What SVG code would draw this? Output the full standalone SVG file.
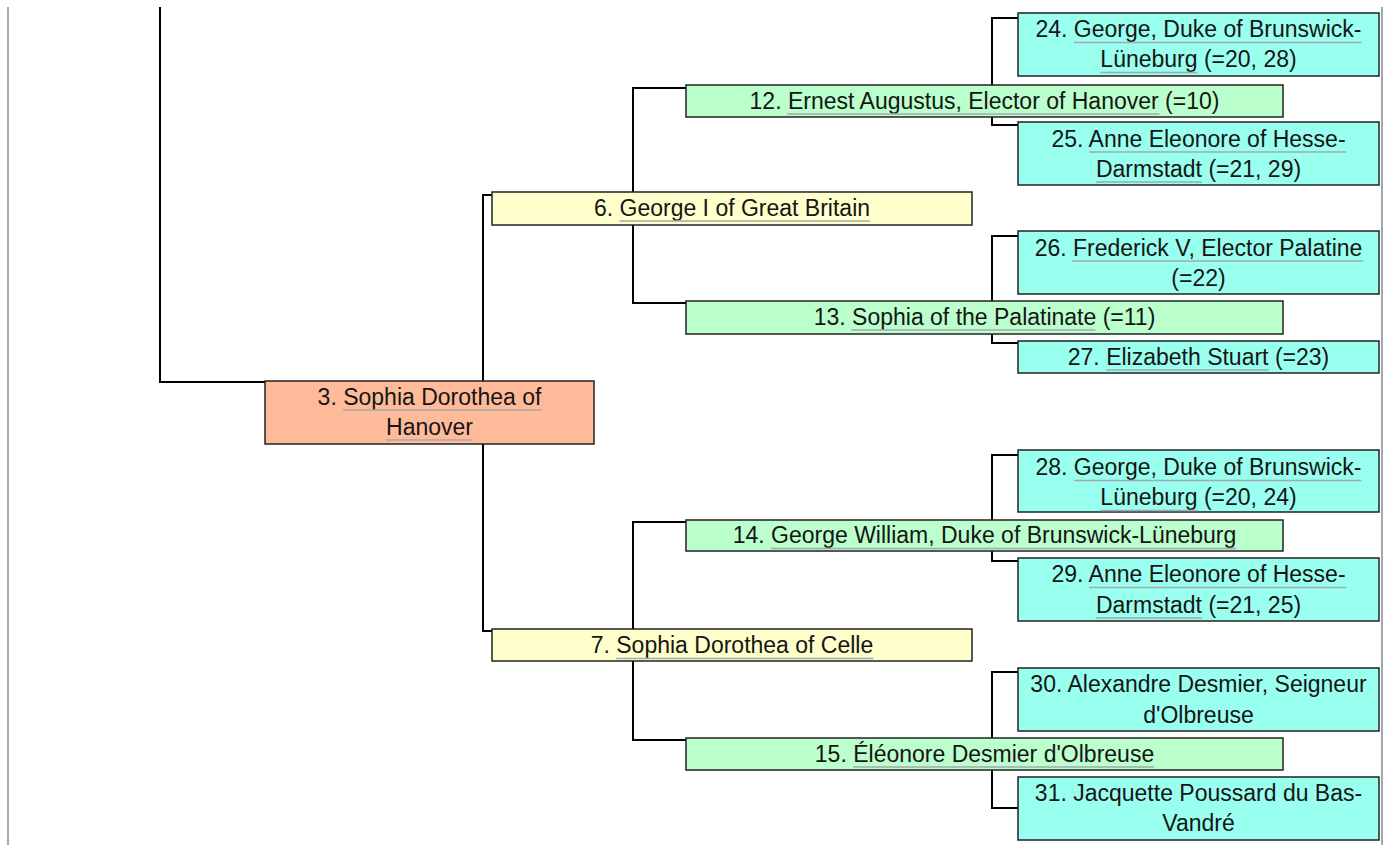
<svg xmlns="http://www.w3.org/2000/svg" width="1388" height="845" viewBox="0 0 1388 845">
<style>
.box{stroke:#222;stroke-width:1.5}
.g1{fill:#ffbb99}
.g2{fill:#ffffcc}
.g3{fill:#bbffcc}
.g4{fill:#99ffee}
text{font-family:"Liberation Sans",Arial,sans-serif;font-size:23px;fill:#151515;text-anchor:middle}
.ul{stroke:#a2a9b1;stroke-width:1.6}
.con{fill:none;stroke:#000;stroke-width:2}
.frame{stroke:#a2a9b1;stroke-width:2}
</style>
<rect width="1388" height="845" fill="#fff"/>
<g id="frame">
<line class="frame" x1="8" y1="7" x2="8" y2="845"/>
<line class="frame" x1="1382" y1="7" x2="1382" y2="845"/>
</g>
<g id="connectors">
<path class="con" d="M160,7 V382 H265"/>
<path class="con" d="M492,195 H483 V631 H492"/>
<path class="con" d="M686,88 H633 V303 H686"/>
<path class="con" d="M686,522 H633 V740 H686"/>
<path class="con" d="M1018,18 H992 V125 H1018"/>
<path class="con" d="M1018,236 H992 V343 H1018"/>
<path class="con" d="M1018,455 H992 V561 H1018"/>
<path class="con" d="M1018,672 H992 V808 H1018"/>
</g>
<g id="n3">
<rect class="box g1" x="265" y="381" width="329" height="63"/>
<text x="429.5" y="405">3. Sophia Dorothea of</text>
<text x="429.5" y="435">Hanover</text>
<line class="ul" x1="343" y1="410" x2="542" y2="410"/>
<line class="ul" x1="386" y1="440" x2="473" y2="440"/>
</g>
<g id="n6">
<rect class="box g2" x="492" y="192" width="480" height="33"/>
<text x="732" y="215.5">6. George I of Great Britain</text>
<line class="ul" x1="619.5" y1="221" x2="870" y2="221"/>
</g>
<g id="n7">
<rect class="box g2" x="492" y="629" width="480" height="32"/>
<text x="732" y="653">7. Sophia Dorothea of Celle</text>
<line class="ul" x1="616.3" y1="658.5" x2="873.5" y2="658.5"/>
</g>
<g id="n12">
<rect class="box g3" x="686" y="85" width="597" height="32"/>
<text x="984.5" y="108.5">12. Ernest Augustus, Elector of Hanover (=10)</text>
<line class="ul" x1="787.4" y1="114" x2="1159.4" y2="114"/>
</g>
<g id="n13">
<rect class="box g3" x="686" y="301" width="597" height="33"/>
<text x="984.5" y="324.5">13. Sophia of the Palatinate (=11)</text>
<line class="ul" x1="851.2" y1="330" x2="1095.4" y2="330"/>
</g>
<g id="n14">
<rect class="box g3" x="686" y="520" width="597" height="31"/>
<text x="984.5" y="543">14. George William, Duke of Brunswick-Lüneburg</text>
<line class="ul" x1="771.1" y1="548.5" x2="1236.3" y2="548.5"/>
</g>
<g id="n15">
<rect class="box g3" x="686" y="738" width="597" height="32"/>
<text x="984.5" y="761.5">15. Éléonore Desmier d'Olbreuse</text>
<line class="ul" x1="853.2" y1="767" x2="1154.1" y2="767"/>
</g>
<g id="n24">
<rect class="box g4" x="1018" y="13" width="361" height="63"/>
<text x="1198.5" y="37">24. George, Duke of Brunswick-</text>
<text x="1198.5" y="67">Lüneburg (=20, 28)</text>
<line class="ul" x1="1073.9" y1="42.5" x2="1361.5" y2="42.5"/>
<line class="ul" x1="1100.4" y1="72.5" x2="1197.6" y2="72.5"/>
</g>
<g id="n25">
<rect class="box g4" x="1018" y="122" width="361" height="63"/>
<text x="1198.5" y="146.5">25. Anne Eleonore of Hesse-</text>
<text x="1198.5" y="176.5">Darmstadt (=21, 29)</text>
<line class="ul" x1="1089.2" y1="152" x2="1346.2" y2="152"/>
<line class="ul" x1="1095.9" y1="182" x2="1202" y2="182"/>
</g>
<g id="n26">
<rect class="box g4" x="1018" y="231" width="361" height="63"/>
<text x="1198.5" y="255.5">26. Frederick V, Elector Palatine</text>
<text x="1198.5" y="285.5">(=22)</text>
<line class="ul" x1="1072" y1="261" x2="1363.4" y2="261"/>
</g>
<g id="n27">
<rect class="box g4" x="1018" y="341" width="361" height="32"/>
<text x="1198.5" y="364.5">27. Elizabeth Stuart (=23)</text>
<line class="ul" x1="1106.2" y1="370" x2="1268.6" y2="370"/>
</g>
<g id="n28">
<rect class="box g4" x="1018" y="450" width="361" height="62"/>
<text x="1198.5" y="475">28. George, Duke of Brunswick-</text>
<text x="1198.5" y="505">Lüneburg (=20, 24)</text>
<line class="ul" x1="1073.9" y1="480.5" x2="1361.5" y2="480.5"/>
<line class="ul" x1="1100.4" y1="510.5" x2="1197.6" y2="510.5"/>
</g>
<g id="n29">
<rect class="box g4" x="1018" y="558" width="361" height="63"/>
<text x="1198.5" y="582">29. Anne Eleonore of Hesse-</text>
<text x="1198.5" y="612.5">Darmstadt (=21, 25)</text>
<line class="ul" x1="1089.2" y1="587.5" x2="1346.2" y2="587.5"/>
<line class="ul" x1="1095.9" y1="618" x2="1202" y2="618"/>
</g>
<g id="n30">
<rect class="box g4" x="1018" y="668" width="361" height="63"/>
<text x="1198.5" y="692">30. Alexandre Desmier, Seigneur</text>
<text x="1198.5" y="722.5">d'Olbreuse</text>
</g>
<g id="n31">
<rect class="box g4" x="1018" y="777" width="361" height="63"/>
<text x="1198.5" y="800.5">31. Jacquette Poussard du Bas-</text>
<text x="1198.5" y="830.5">Vandré</text>
</g>
</svg>
